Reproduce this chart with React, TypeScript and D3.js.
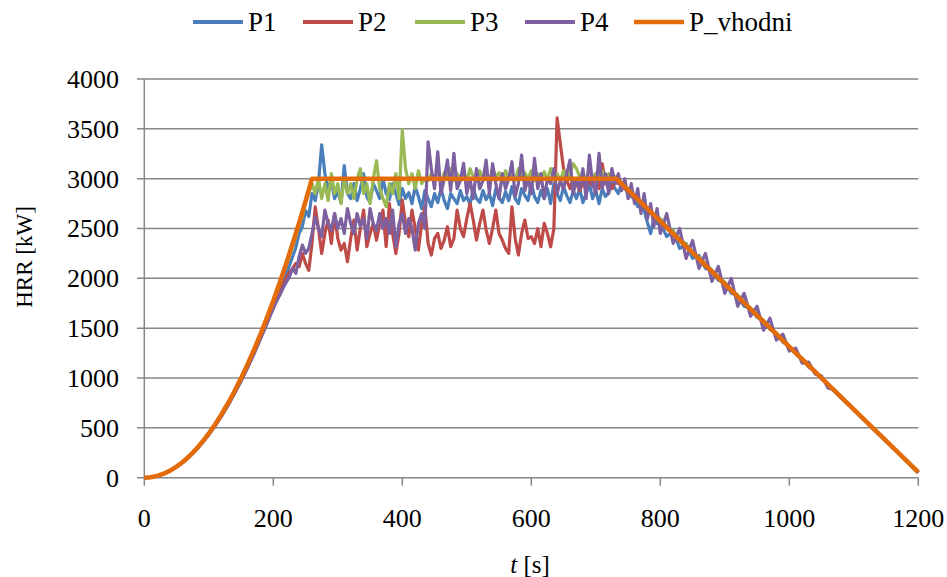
import React from 'react';
import * as d3 from 'd3';

// sampling grid of the measured series (s)
const T: number[] = [...d3.range(0, 200, 10), ...d3.range(200, 800, 5), ...d3.range(800, 1201, 10)];

const P1: number[] = [
  0,4,17,39,70,108,156,212,278,352,432,525,622,735,850,975,1110,1250,1400,1560,
  1720,1800,1880,1960,2040,2130,2220,2310,2450,2520,2680,2620,
  2850,2780,2950,3340,3050,2900,2980,2800,2870,2760,3130,2850,
  2800,2950,2780,2900,3050,2820,2760,2950,2880,2800,3000,2850,
  2790,2950,2850,2740,2900,2800,2860,2750,2920,2820,2700,2880,
  2800,2720,2850,2760,2900,2780,2700,2850,2800,2750,2880,2780,
  2820,2740,2900,2800,2760,2880,2790,2850,2730,2900,2810,2760,
  2870,2780,2920,2800,2750,2900,2830,2780,2950,2820,2760,2880,
  2800,2900,2750,2950,2850,2780,2920,2830,2760,2880,2800,2900,
  2760,2850,2950,2800,2880,2750,2900,2820,2860,2960,2900,2850,
  2960,2900,2870,2820,2800,2720,2740,2680,2560,2450,2600,2550,
  2550,2420,2480,2300,2350,2200,2230,2100,2080,1980,1960,1850,1830,1720,1700,1610,1570,1490,1450,1360,
  1320,1240,1190,1110,1070,990,940,865,815,740,688,612,560,488,434,362,308,238,180,112,50,
];

const P2: number[] = [
  0,4,18,40,71,110,158,216,282,356,440,532,632,742,860,985,1120,1265,1415,1570,
  1700,1790,1870,1930,2000,2060,2100,2150,2117,2250,2150,2080,
  2350,2718,2500,2250,2450,2585,2350,2650,2400,2284,2350,2167,
  2400,2585,2284,2500,2685,2317,2450,2551,2384,2550,2685,2317,
  2752,2450,2250,2450,2785,2550,2418,2685,2500,2284,2550,2718,
  2351,2234,2400,2451,2300,2384,2518,2317,2400,2685,2500,2418,
  2600,2752,2585,2384,2550,2685,2485,2350,2500,2685,2450,2384,
  2300,2250,2718,2400,2234,2450,2585,2400,2418,2350,2500,2317,
  2551,2450,2317,2500,3610,3350,3100,2980,2900,3000,2950,2880,
  2960,2900,2980,2930,3050,2900,3150,2950,2980,2900,2970,2950,
  2950,2900,2870,2840,2810,2790,2750,2720,2690,2660,2630,2600,
  2580,2500,2450,2380,2330,2250,2200,2120,2070,2000,1950,1870,1820,1750,1695,1620,1570,1495,1440,1370,
  1315,1245,1190,1120,1062,995,936,870,810,744,683,618,557,492,431,366,305,240,178,114,52,
];

const P3: number[] = [
  0,4,18,40,71,110,159,217,283,358,442,535,636,746,866,994,1130,1275,1430,1595,
  1760,1850,1940,2040,2130,2230,2330,2420,2540,2620,2760,2850,
  2950,2850,3000,2800,2950,2780,3050,2850,2950,2750,3000,2850,
  2950,2800,3000,3100,2850,2950,2750,3000,3180,2900,2800,2720,
  2950,2850,3050,2800,3490,3100,2950,3050,2900,3080,2950,3000,
  2980,3050,3000,3080,2950,3060,3000,3100,2980,3050,3000,3070,
  2970,3100,3020,2980,3080,3000,3050,2980,3100,3020,3060,2990,
  3080,3000,3050,2980,3100,3020,3060,3000,3080,2980,3050,3000,
  3070,2990,3100,3020,3050,2980,3080,3000,3050,3150,3100,3020,
  3060,2980,3100,3020,3050,3000,3080,2980,3050,3000,3020,2980,
  2960,2930,2900,2860,2830,2800,2770,2740,2700,2680,2640,2610,
  2600,2520,2470,2400,2340,2270,2210,2150,2080,2020,1960,1890,1830,1770,1700,1640,1575,1515,1450,1385,
  1320,1258,1195,1130,1068,1005,940,878,815,750,688,623,560,497,433,370,306,243,180,116,53,
];

const P4: number[] = [
  0,4,17,39,69,107,155,210,275,350,430,520,620,728,845,968,1100,1240,1390,1540,
  1700,1770,1830,1900,1960,2017,2100,2050,2217,2334,2250,2300,
  2450,2618,2500,2418,2685,2550,2485,2650,2500,2600,2450,2700,
  2550,2450,2650,2520,2600,2400,2700,2550,2480,2650,2500,2600,
  2450,2685,2317,2550,2650,2450,2600,2500,2284,2550,2650,2500,
  3370,3100,2900,3270,2850,3000,3187,2880,3254,2900,2980,3153,
  2850,3000,2800,3100,2900,2980,3187,2850,3150,2950,2800,3050,
  2900,3000,3170,2820,2950,3237,2880,3000,2850,3204,2900,3050,
  2800,3000,2950,3100,2850,2980,2900,3050,3187,2850,3000,2900,
  3100,2800,3237,2950,2850,3254,2900,3050,2850,3100,2950,3050,
  2880,3000,2800,2950,2750,2900,2650,2850,2600,2750,2520,2700,
  2450,2650,2350,2500,2200,2380,2100,2250,1970,2120,1850,2000,1720,1850,1620,1720,1480,1600,1380,1440,
  1270,1300,1150,1160,1040,1020,900,880,800,755,675,625,552,495,428,368,302,242,177,115,52,
];

// design fire curve
const PV_T: number[] = [0,10,20,30,40,50,60,70,80,90,100,110,120,130,140,150,160,170,180,190,200,210,220,230,240,250,260,732,1200];
const PV: number[] = [0,4,18,40,71,111,160,218,284,360,444,537,639,750,870,999,1137,1283,1438,1603,1776,1958,2149,2349,2557,2775,3000,3000,55];

const SERIES_NAMES = ['P1', 'P2', 'P3', 'P4', 'P_vhodni'];
const COLORS = ['#4a7ebb', '#be4b48', '#98b954', '#7d60a0', '#e36c09'];
const X_TICKS = [0, 200, 400, 600, 800, 1000, 1200];
const Y_TICKS = [0, 500, 1000, 1500, 2000, 2500, 3000, 3500, 4000];

const W = 947, H = 577;
const TS: React.CSSProperties = { fontFamily: "'Liberation Serif'" };

export default function App() {
  const x = d3.scaleLinear().domain([0, 1200]).range([144.3, 918.3]);
  const y = d3.scaleLinear().domain([0, 4000]).range([477.7, 79]);
  const line = d3.line<[number, number]>().x(d => x(d[0])).y(d => y(d[1]));

  const measured = [P1, P2, P3, P4].map(s => T.map((t, i) => [t, s[i]] as [number, number]));
  const design = PV_T.map((t, i) => [t, PV[i]] as [number, number]);

  const legendX = [193, 303, 415, 525, 634];

  return (
    <svg width={W} height={H} style={{ position: 'absolute', left: 0, top: 0, background: '#fff' }}>
      {Y_TICKS.map(v => (
        <line key={'g' + v} x1={137} x2={918.3} y1={y(v)} y2={y(v)} stroke="#868686" strokeWidth={1.5} />
      ))}
      <line x1={x(0)} x2={x(0)} y1={y(4000)} y2={y(0)} stroke="#868686" strokeWidth={1.5} />
      {X_TICKS.map(v => (
        <line key={'xt' + v} x1={x(v)} x2={x(v)} y1={y(0)} y2={y(0) + 8} stroke="#868686" strokeWidth={1.5} />
      ))}
      {Y_TICKS.map(v => (
        <text key={'yl' + v} x={119} y={y(v)} dy="0.34em" textAnchor="end" fontSize={26} fill="#000" style={TS}>{v}</text>
      ))}
      {X_TICKS.map(v => (
        <text key={'xl' + v} x={x(v)} y={527} textAnchor="middle" fontSize={26} fill="#000" style={TS}>{v}</text>
      ))}
      {measured.map((d, i) => (
        <path key={SERIES_NAMES[i]} d={line(d) || ''} fill="none" stroke={COLORS[i]} strokeWidth={3.2} strokeLinejoin="round" />
      ))}
      <path d={line(design) || ''} fill="none" stroke={COLORS[4]} strokeWidth={4.5} strokeLinejoin="round" />
      <text x={0} y={0} transform={`translate(32, 257) rotate(-90)`} textAnchor="middle" fontSize={23} fill="#000" style={TS}>HRR [kW]</text>
      <text x={530} y={573} textAnchor="middle" fontSize={25} fill="#000" style={TS}>
        <tspan fontStyle="italic">t</tspan> [s]
      </text>
      {SERIES_NAMES.map((n, i) => (
        <g key={'lg' + n}>
          <line x1={legendX[i]} x2={legendX[i] + 50} y1={22} y2={22} stroke={COLORS[i]} strokeWidth={i === 4 ? 4.5 : 4} />
          <text x={legendX[i] + 55} y={22} dy="0.34em" fontSize={27} fill="#000" style={TS}>{n}</text>
        </g>
      ))}
    </svg>
  );
}
